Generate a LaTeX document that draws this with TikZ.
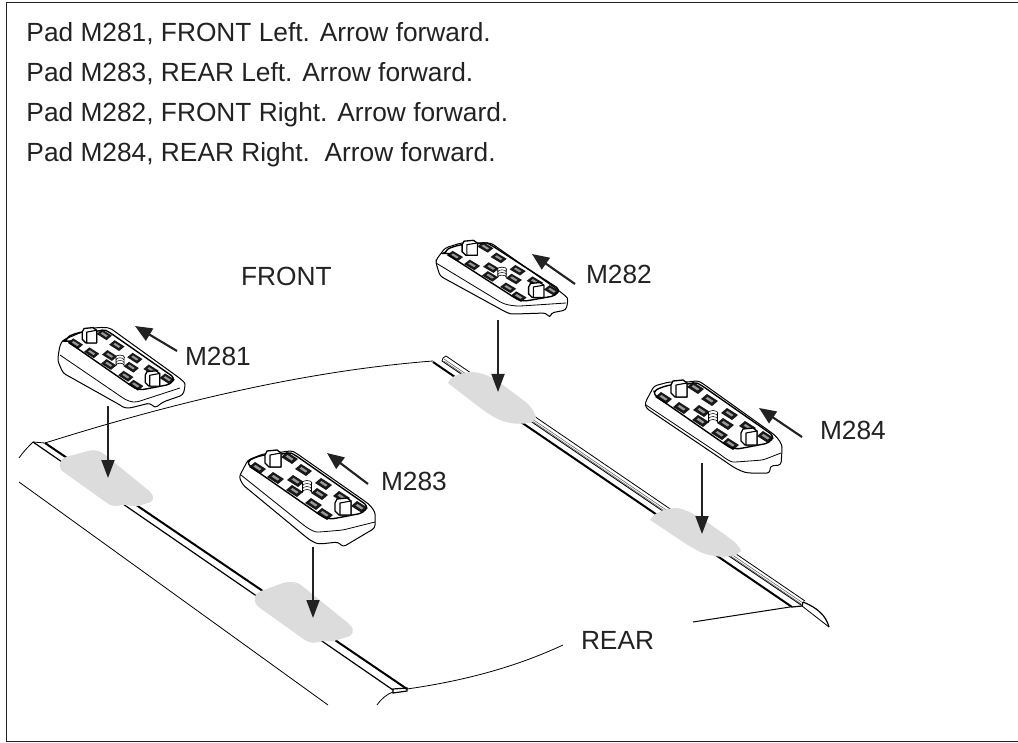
\documentclass[tikz,border=0pt]{standalone}
\usepackage{fontspec}
\setmainfont{Liberation Sans}
\usetikzlibrary{arrows.meta}
\definecolor{ink}{HTML}{222222}
\definecolor{patch}{HTML}{DCDCDC}
\tikzset{
  x=1pt,y=-1pt,
  every node/.style={inner sep=0pt,outer sep=0pt,anchor=base west,text=ink,font=\fontsize{26.3}{30}\selectfont},
  framekey/.style={draw=ink,line width=1.3pt},
  roof/.style={draw=black,line width=0.8pt},
  railheavy/.style={draw=black,line width=2pt},
  groove/.style={draw=black!65,line width=0.5pt},
  patchshape/.style={fill=patch,draw=none},
  droparrow/.style={draw=ink,line width=1.8pt,-{Triangle[length=18pt,width=13pt]},shorten >=-1pt},
  fwdarrow/.style={draw=ink,line width=2.1pt,-{Triangle[length=17pt,width=14pt]}},
  padoutline/.style={draw=black,fill=white,line width=1pt,line join=round,rounded corners=3pt},
  padline/.style={draw=black,line width=0.8pt,line join=round,rounded corners=3pt},
  wellline/.style={draw=black,line width=1.4pt,line join=round,rounded corners=4pt},
}
% a small dark socket on the pad face
\newcommand{\socket}[2]{%
  \fill[black!90] (#1-8,#2-1) -- (#1-2,#2-6) -- (#1+9,#2+1) -- (#1+3,#2+6) -- cycle;
  \fill[black!40] (#1-3.5,#2-1.5) -- (#1-1.5,#2-3) -- (#1+4.5,#2+1) -- (#1+2.5,#2+2.5) -- cycle;
}
% a clip with a white front face
\newcommand{\padclip}[2]{%
  \filldraw[fill=white,draw=black,line width=1.3pt,line join=round]
    (#1-9,#2-6) -- (#1-7,#2-10) -- (#1+3,#2-11) -- (#1+7,#2-8) -- (#1+7,#2+6) -- (#1-5,#2+6) -- (#1-9,#2+2) -- cycle;
  \filldraw[fill=white,draw=black,line width=1.1pt,line join=round]
    (#1-4,#2-6) -- (#1+7,#2-8) -- (#1+7,#2+6) -- (#1-4,#2+6) -- cycle;
}
% everything on the pad face, drawn about the central post
\newcommand{\padface}{%
  \foreach \sx/\sy in {-50/-18,-18/-28,-4/-16,-32/-8,-12/-5,16/-2,-13/5,12/8,34/11,6/18,52/21,17/28}{
    \socket{\sx}{\sy}
  }
  \draw[wellline] (-59,-21) -- (13,29) .. controls (18,32) and (24,33) .. (30,32)
     -- (56,27) -- (61,20) -- (-12,-31) .. controls (-16,-33) and (-20,-33) .. (-24,-32)
     -- (-44,-31) .. controls (-50,-29) and (-57,-27) .. cycle;
  \padclip{-33}{-25}
  \padclip{37}{23}
  \filldraw[fill=white,draw=black,line width=.6pt] (0,-3) ellipse (5 and 2.5);
  \filldraw[fill=white,draw=black,line width=.6pt] (-4.5,-3) -- (-4.5,6) arc (180:0:4.5 and -2.5) -- (4.5,-3);
  \draw[line width=.5pt] (-4.5,0) arc (180:0:4.5 and -2.5) (-4.5,3) arc (180:0:4.5 and -2.5);
}
\begin{document}
\begin{tikzpicture}
\useasboundingbox (0,0) rectangle (1018,743);
\fill[white] (0,0) rectangle (1018,743);
\draw[framekey] (1018,2.5) -- (6.5,2.5) -- (6.5,741.5) -- (1018,741.5);

% title lines
\node (t1) at (26.5,42) {Pad M281, FRONT Left. Arrow forward.};
\node (t2) at (26.5,82) {Pad M283, REAR Left. Arrow forward.};
\node (t3) at (26.5,122) {Pad M282, FRONT Right. Arrow forward.};
\node (t4) at (26.5,162) {Pad M284, REAR Right.\ \ Arrow forward.};

% roof
\draw[roof] (45,443) .. controls (150,410) and (290,372) .. (433,361);
\draw[roof] (19,458) .. controls (23,452) and (28,447) .. (33,442) -- (45,443);
\draw[roof] (19,482) -- (328,705);
\draw[roof] (377,705) .. controls (381,699) and (387,694) .. (393,692);
\draw[roof] (407,689) .. controls (470,680) and (520,665) .. (563,645);
\draw[roof,line width=1pt] (693,622) -- (790,607);
\draw[railheavy,line width=1.2pt] (33,442) -- (393,690);
\draw[railheavy] (45,443) -- (407,689);
\draw[roof,line width=1.2pt] (393,689) -- (407,688) -- (407,691) -- (393,693) -- cycle;

% right rail
\draw[railheavy] (433,362) -- (792,607);
\draw[roof] (443,358) -- (446,356) -- (805,601);
\draw[groove] (444,359) -- (803,603);
\draw[groove] (444,361) -- (802,604.5);
\draw[roof] (443,358) -- (442,361) -- (801,605);
\draw[roof,line width=1.2pt] (792,607) -- (802,606) -- (803,602);
\draw[roof,line width=1.2pt] (803,602) .. controls (818,608) and (826,616) .. (829,627);
\draw[roof] (802,606) -- (829,627);

% grey patches
\fill[patchshape] (60,467) .. controls (59,462) and (62,458) .. (66,457) -- (88,451)
  .. controls (95,449) and (100,451) .. (104,454) -- (148,490)
  .. controls (153,494) and (155,498) .. (151,502) -- (138,506)
  .. controls (132,507) and (127,504) .. (122,505) .. controls (116,507) and (111,506) .. (107,503)
  -- (65,473) .. controls (62,471) and (60,470) .. cycle;
\fill[patchshape] (255,600) .. controls (254,595) and (257,593) .. (261,591) -- (283,583)
  .. controls (291,581) and (297,582) .. (301,585) -- (348,623)
  .. controls (353,627) and (355,632) .. (350,636) -- (334,641)
  .. controls (328,642) and (324,640) .. (318,642) .. controls (312,644) and (307,642) .. (302,638)
  -- (260,608) .. controls (257,606) and (255,604) .. cycle;
\fill[patchshape] (448,383) .. controls (450,378) and (455,374) .. (470,372)
  .. controls (482,372) and (492,377) .. (503,385) -- (527,403)
  .. controls (532,408) and (535,413) .. (536,418) -- (533,422)
  .. controls (522,425) and (510,424) .. (500,420) .. controls (495,418) and (489,414) .. (483,410) -- cycle;
\fill[patchshape] (650,520) .. controls (653,515) and (660,509) .. (675,508)
  .. controls (685,508) and (697,516) .. (707,522) -- (728,537)
  .. controls (735,542) and (740,547) .. (741,551) -- (736,555)
  .. controls (725,558) and (712,557) .. (700,552) .. controls (695,549) and (689,546) .. (683,542) -- cycle;

% pad M281
\begin{scope}[shift={(120,360)}]
  \draw[padoutline] (-60,-15) -- (-57,-20) -- (-38,-28) .. controls (-30,-32) and (-20,-33) .. (-10,-32)
     -- (58,17) .. controls (62,20) and (65,23) .. (65,27) -- (63,35) -- (43,42) -- (35,48) -- (30,43)
     -- (10,48) .. controls (6,48) and (3,47) .. (0,45) -- (-57,13) .. controls (-60,6) and (-62,2) .. (-62,-3) -- cycle;
  \draw[padline] (-60,-5) -- (3,38) .. controls (8,41) and (12,42) .. (17,42) -- (60,28);
  \begin{scope}[xscale=.9,yscale=.9]\padface\end{scope}
\end{scope}

% pad M283
\begin{scope}[shift={(307,486)}]
  \draw[padoutline] (-68,-9) -- (-59,-26) -- (-44,-32) -- (-24,-34) .. controls (-19,-35) and (-15,-35) .. (-11,-33)
     -- (59,16) .. controls (65,21) and (68,26) .. (68,31) -- (68,42) -- (36,61) -- (31,56) -- (13,58)
     .. controls (8,57) and (3,54) .. (-1,51) -- (-64,-1) -- cycle;
  \draw[padline] (-66,-11) -- (-1,41) .. controls (4,44) and (8,46) .. (13,46) -- (36,44) -- (68,36);
  \padface
\end{scope}

% pad M282
\begin{scope}[shift={(502,272)}]
  \draw[padoutline] (-66,-12) -- (-57,-24) -- (-41,-29) -- (-11,-29)
     -- (56,18) .. controls (61,22) and (65,25) .. (66,29) -- (64,38) -- (49,41) -- (48,46) -- (44,41)
     -- (13,42) .. controls (8,42) and (4,40) .. (0,38) -- (-62,4) -- (-66,-9) -- cycle;
  \draw[padline] (-66,-9) -- (0,31) .. controls (6,33) and (12,34) .. (19,34) -- (64,31);
  \begin{scope}[xscale=.95,yscale=.88]\padface\end{scope}
\end{scope}

% pad M284
\begin{scope}[shift={(713,416)}]
  \draw[padoutline] (-68,-13) -- (-59,-30) -- (-44,-34) -- (-24,-34) .. controls (-19,-35) and (-15,-35) .. (-11,-33)
     -- (59,17) .. controls (65,22) and (69,28) .. (69,34) -- (68,49) -- (57,50) -- (57,57) -- (35,57)
     .. controls (27,55) and (20,51) .. (13,46) -- (-67,-8) -- cycle;
  \draw[padline] (-67,-11) -- (8,39) .. controls (13,43) and (18,46) .. (23,46) -- (50,44) -- (68,37);
  \padface
\end{scope}

% drop arrows
\coordinate (a1s) at (108,406); \coordinate (a1e) at (108,477);
\coordinate (a3s) at (313,547); \coordinate (a3e) at (313,617);
\coordinate (a2s) at (498,320); \coordinate (a2e) at (498,391);
\coordinate (a4s) at (702,463); \coordinate (a4e) at (702,533);
\draw[droparrow] (a1s) -- (a1e);
\draw[droparrow] (a3s) -- (a3e);
\draw[droparrow] (a2s) -- (a2e);
\draw[droparrow] (a4s) -- (a4e);

% forward arrows
\coordinate (f1s) at (177,351); \coordinate (f1e) at (135,326);
\coordinate (f3s) at (368,484); \coordinate (f3e) at (327,453);
\coordinate (f2s) at (575,284); \coordinate (f2e) at (532,254);
\coordinate (f4s) at (802,437); \coordinate (f4e) at (759,408);
\draw[fwdarrow] (f1s) -- (f1e);
\draw[fwdarrow] (f3s) -- (f3e);
\draw[fwdarrow] (f2s) -- (f2e);
\draw[fwdarrow] (f4s) -- (f4e);

% labels
\node (front) at (241,286) {FRONT};
\node (rear) at (581,649) {REAR};
\node (m281) at (185,366) {M281};
\node (m283) at (381,490) {M283};
\node (m282) at (586,284) {M282};
\node (m284) at (820,439) {M284};
\end{tikzpicture}
\end{document}
